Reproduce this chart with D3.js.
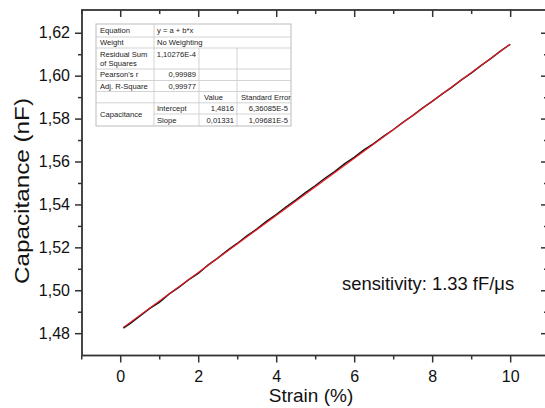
<!DOCTYPE html>
<html>
<head>
<meta charset="utf-8">
<script src="https://cdn.jsdelivr.net/npm/d3@7"></script>
<style>
  html, body { margin: 0; padding: 0; background: #fff; overflow: hidden; }
  svg { display: block; font-family: Arial, "Liberation Sans", sans-serif; }
</style>
</head>
<body>
<script>
// measured data (strain %, capacitance nF)
const strain = [0.08, 0.25, 0.5, 0.75, 1.0, 1.25, 1.5, 1.75, 2.0, 2.25, 2.5, 2.75, 3.0, 3.25, 3.5, 3.75,
  4.0, 4.25, 4.5, 4.75, 5.0, 5.25, 5.5, 5.75, 6.0, 6.25, 6.5, 6.75, 7.0, 7.25, 7.5, 7.75,
  8.0, 8.25, 8.5, 8.75, 9.0, 9.25, 9.5, 9.75, 10.0];
const capacitance = [1.4824, 1.4845, 1.4879, 1.4914, 1.4944, 1.4982, 1.5013, 1.5048, 1.5079, 1.5117,
  1.5150, 1.5186, 1.5218, 1.5254, 1.5285, 1.5321, 1.5353, 1.5388, 1.5420, 1.5455, 1.5487, 1.5522,
  1.5553, 1.5589, 1.5619, 1.5654, 1.5683, 1.5717, 1.5748, 1.5783, 1.5814, 1.5849, 1.5880, 1.5914,
  1.5945, 1.5980, 1.6012, 1.6047, 1.6079, 1.6114, 1.6146];

// linear fit line ends
const fitStrain = [0.08, 10];
const fitCap = [1.4827, 1.6147];

// axis ticks
const xMajor = [0, 2, 4, 6, 8, 10];
const xMinor = [-1, 1, 3, 5, 7, 9];
const yMajor = [1.48, 1.50, 1.52, 1.54, 1.56, 1.58, 1.60, 1.62];
const yMinor = [1.47, 1.49, 1.51, 1.53, 1.55, 1.57, 1.59, 1.61, 1.63];

// fit result table
const tableRows = [
  ["Equation", "y = a + b*x"],
  ["Weight", "No Weighting"],
  ["Residual Sum\nof Squares", "1,10276E-4"],
  ["Pearson's r", "0,99989"],
  ["Adj. R-Square", "0,99977"]
];
const paramHeader = ["Value", "Standard Error"];
const paramGroup = "Capacitance";
const paramNames = ["Intercept", "Slope"];
const paramValues = ["1,4816", "0,01331"];
const paramErrors = ["6,36085E-5", "1,09681E-5"];

const W = 545, H = 408;
const mLeft = 82, mRight = 548, mTop = 10, mBottom = 355.5;

const svg = d3.select("body").append("svg").attr("width", W).attr("height", H);

const x = d3.scaleLinear().domain([-0.98, 10.97]).range([mLeft, mRight]);
const y = d3.scaleLinear().domain([1.4696, 1.6306]).range([mBottom, mTop]);

const comma = d3.formatLocale({ decimal: ",", thousands: ".", grouping: [3], currency: ["", ""] });
const fmtY = comma.format(".2f");

const axisColor = "#333";

function styleAxis(g) {
  g.select(".domain").remove();
  g.selectAll("line").attr("stroke", axisColor).attr("stroke-width", 1.5);
  g.selectAll("text").attr("fill", "#111").attr("font-size", 16)
    .attr("font-family", "Arial, 'Liberation Sans', sans-serif");
}

const yMinorIn = yMinor.filter(v => v > 1.47 && v < 1.63);

// bottom
svg.append("g").attr("transform", `translate(0,${mBottom})`)
  .call(d3.axisBottom(x).tickValues(xMajor).tickSize(7).tickPadding(8).tickFormat(d3.format("d")))
  .call(styleAxis);
svg.append("g").attr("transform", `translate(0,${mBottom})`)
  .call(d3.axisBottom(x).tickValues(xMinor).tickSize(4).tickFormat(""))
  .call(styleAxis);
// top (inward)
svg.append("g").attr("transform", `translate(0,${mTop})`)
  .call(d3.axisBottom(x).tickValues(xMajor).tickSize(7).tickFormat(""))
  .call(styleAxis);
svg.append("g").attr("transform", `translate(0,${mTop})`)
  .call(d3.axisBottom(x).tickValues(xMinor).tickSize(4).tickFormat(""))
  .call(styleAxis);
// left
svg.append("g").attr("transform", `translate(${mLeft},0)`)
  .call(d3.axisLeft(y).tickValues(yMajor).tickSize(7).tickPadding(5).tickFormat(fmtY))
  .call(styleAxis);
svg.append("g").attr("transform", `translate(${mLeft},0)`)
  .call(d3.axisLeft(y).tickValues(yMinorIn).tickSize(4).tickFormat(""))
  .call(styleAxis);
// right (inward)
svg.append("g").attr("transform", `translate(${mRight},0)`)
  .call(d3.axisLeft(y).tickValues(yMajor).tickSize(7).tickFormat(""))
  .call(styleAxis);
svg.append("g").attr("transform", `translate(${mRight},0)`)
  .call(d3.axisLeft(y).tickValues(yMinorIn).tickSize(4).tickFormat(""))
  .call(styleAxis);

// frame
svg.append("rect")
  .attr("x", mLeft).attr("y", mTop)
  .attr("width", mRight - mLeft).attr("height", mBottom - mTop)
  .attr("fill", "none").attr("stroke", axisColor).attr("stroke-width", 1.8);

// data
const pts = strain.map((s, i) => [s, capacitance[i]]);
svg.append("path")
  .datum(pts)
  .attr("fill", "none")
  .attr("stroke", "#111")
  .attr("stroke-width", 1.5)
  .attr("d", d3.line().x(d => x(d[0])).y(d => y(d[1])));

svg.append("path")
  .datum(fitStrain.map((s, i) => [s, fitCap[i]]))
  .attr("fill", "none")
  .attr("stroke", "#ee1c24")
  .attr("stroke-width", 1.2)
  .attr("d", d3.line().x(d => x(d[0])).y(d => y(d[1])));

// axis titles
svg.append("text")
  .attr("x", 311).attr("y", 402)
  .attr("text-anchor", "middle").attr("font-size", 19).attr("fill", "#111")
  .text("Strain (%)");

svg.append("text")
  .attr("transform", `translate(29,191) rotate(-90)`)
  .attr("text-anchor", "middle").attr("font-size", 20).attr("fill", "#111")
  .attr("textLength", 186).attr("lengthAdjust", "spacingAndGlyphs")
  .text("Capacitance (nF)");

svg.append("text")
  .attr("x", 342).attr("y", 290)
  .attr("font-size", 18.4).attr("fill", "#111")
  .text("sensitivity: 1.33 fF/\u03bcs");

// fit table
const colX = [96, 154, 199, 237, 291];
const rowY = [24, 37, 48, 69, 80.5, 91.5, 102.8, 114, 126];
const tb = svg.append("g").attr("font-size", 7.6).attr("fill", "#222");
const gridCol = "#c8c8c8";

tb.append("rect")
  .attr("x", colX[0]).attr("y", rowY[0])
  .attr("width", colX[4] - colX[0]).attr("height", rowY[8] - rowY[0])
  .attr("fill", "#fff").attr("stroke", "#bbb").attr("stroke-width", 1);

function hline(x1, x2, yy) {
  tb.append("line").attr("x1", x1).attr("x2", x2).attr("y1", yy).attr("y2", yy)
    .attr("stroke", gridCol).attr("stroke-width", 0.8);
}
function vline(xx, y1, y2) {
  tb.append("line").attr("x1", xx).attr("x2", xx).attr("y1", y1).attr("y2", y2)
    .attr("stroke", gridCol).attr("stroke-width", 0.8);
}
for (let i = 1; i < 8; i++) hline(i === 7 ? colX[1] : colX[0], colX[4], rowY[i]);
vline(colX[1], rowY[0], rowY[8]);
vline(colX[2], rowY[2], rowY[8]);
vline(colX[3], rowY[2], rowY[8]);

function cellText(txt, xx, yy, anchor) {
  tb.append("text").attr("x", xx).attr("y", yy).attr("text-anchor", anchor || "start")
    .attr("dominant-baseline", "central").text(txt);
}

tableRows.forEach((r, i) => {
  const yc = (rowY[i] + rowY[i + 1]) / 2;
  const lines = r[0].split("\n");
  if (lines.length > 1) {
    cellText(lines[0], colX[0] + 4, rowY[i] + 6);
    cellText(lines[1], colX[0] + 4, rowY[i] + 15);
    cellText(r[1], colX[2] - 3, rowY[i] + 6, "end");
  } else if (i < 2) {
    cellText(r[0], colX[0] + 4, yc);
    cellText(r[1], colX[1] + 3, yc);
  } else {
    cellText(r[0], colX[0] + 4, yc);
    cellText(r[1], colX[2] - 3, yc, "end");
  }
});

const yh = (rowY[5] + rowY[6]) / 2;
cellText(paramHeader[0], colX[2] + 5, yh);
cellText(paramHeader[1], colX[3] + 4, yh);
cellText(paramGroup, colX[0] + 4, (rowY[6] + rowY[8]) / 2);
paramNames.forEach((n, i) => {
  const yc = (rowY[6 + i] + rowY[7 + i]) / 2;
  cellText(n, colX[1] + 3, yc);
  cellText(paramValues[i], colX[3] - 3, yc, "end");
  cellText(paramErrors[i], colX[4] - 3, yc, "end");
});
</script>
</body>
</html>
